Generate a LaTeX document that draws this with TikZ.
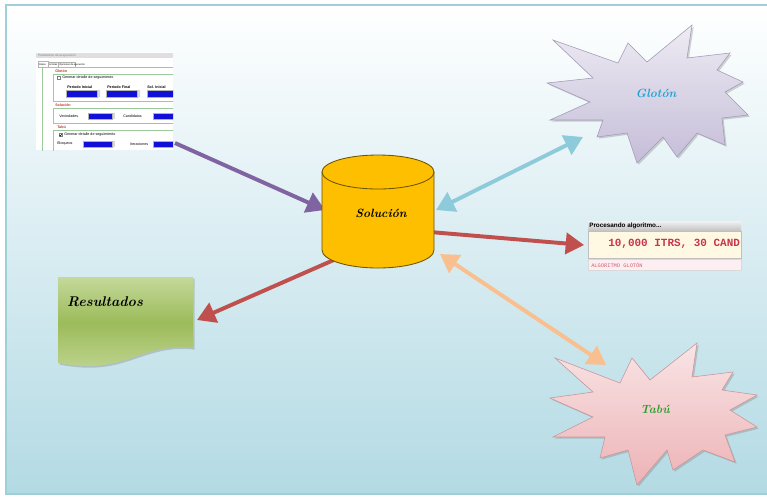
\documentclass[tikz,border=0pt]{standalone}
\usepackage{fontspec}
\newfontfamily\uifont{Liberation Sans}
\newfontfamily\monofont{Liberation Mono}
\usepackage{tikz}
\usetikzlibrary{arrows.meta,shadows}

\definecolor{fondo}{HTML}{B3DAE4}
\definecolor{marco}{HTML}{9FCFD8}
\definecolor{morado}{HTML}{8064A2}
\definecolor{celeste}{HTML}{8ECBDA}
\definecolor{rojo}{HTML}{C0504D}
\definecolor{naranja}{HTML}{F9BF8F}
\definecolor{cilindro}{HTML}{FDBF00}
\definecolor{cilborde}{HTML}{6B5300}
\definecolor{campoazul}{HTML}{1010D8}
\definecolor{etiqueta}{HTML}{C0392B}
\definecolor{crema}{HTML}{FFF9E3}
\definecolor{rosa}{HTML}{FDEEF2}
\definecolor{carmin}{HTML}{C8364A}
\definecolor{verdeclaro}{HTML}{C4D99A}
\definecolor{verde}{HTML}{9CBB5A}
\definecolor{lila}{HTML}{C5BDD8}
\definecolor{lilaborde}{HTML}{A29AB6}
\definecolor{salmon}{HTML}{EDB3B6}
\definecolor{salmonborde}{HTML}{C9959A}
\definecolor{cian}{HTML}{1FA3D4}
\definecolor{verdetexto}{HTML}{2E9E2E}

\tikzset{
  flecha/.style={line width=2.8pt, -{Triangle[length=13pt,width=15pt]}},
  doble/.style={line width=2.8pt, {Triangle[length=13pt,width=15pt]}-{Triangle[length=13pt,width=15pt]}},
  rotulo/.style={font=\bfseries\itshape\fontsize{8.5}{10}\selectfont},
  mini/.style={font=\uifont\fontsize{2.6}{3}\selectfont, inner sep=0pt, anchor=west},
  seccion/.style={mini, text=etiqueta, font=\uifont\bfseries\fontsize{2.6}{3}\selectfont},
  campo/.style={fill=campoazul, draw=gray!60, line width=0.2pt},
  caja/.style={draw=green!30!gray!60, line width=0.3pt},
  sombra/.style={drop shadow={opacity=0.35, shadow xshift=1.2pt, shadow yshift=-1.2pt}},
}

\begin{document}
\begin{tikzpicture}[x=0.025cm,y=-0.025cm]
    % Background and frame
    \useasboundingbox (0,0) rectangle (767,496);
    \shade[top color=white, bottom color=fondo] (6,5) rectangle (769,494);
    \draw[marco, line width=1pt] (6,5) rectangle (769,494);

    % Screenshot of the parameter window
    \begin{scope}
        \clip (36,52) rectangle (173,150);
        \fill[white] (36,52) rectangle (173,150);
        \fill[gray!25] (36,53) rectangle (173,58);
        \node[mini, text=gray, font=\uifont\fontsize{2.2}{3}\selectfont] (ventana) at (38,55.5) {Parámetros de la ejecución};
        \draw[gray!60, line width=0.2pt, fill=white] (38,67) -- (38,61) -- (48,61) -- (48,67);
        \draw[gray!60, line width=0.2pt] (48,67) -- (48,62) -- (58,62) -- (58,67) (58,62) -- (75,62) -- (75,67);
        \node[mini, font=\uifont\fontsize{1.8}{2}\selectfont] (tab1) at (39,64.5) {Datos};
        \node[mini, font=\uifont\fontsize{1.8}{2}\selectfont] (tab2) at (49,64.5) {Límites};
        \node[mini, font=\uifont\fontsize{1.8}{2}\selectfont] (tab3) at (59,64.5) {Opciones de ejecución};
        \draw[caja] (38,67) -- (180,67);
        \draw[caja] (42,67) -- (42,160);

        % Glotón section
        \node[seccion] (sec1) at (55,71) {Glotón};
        \draw[caja] (53,74) rectangle (180,101);
        \draw[gray, line width=0.2pt, fill=white] (57,76.5) rectangle (60,79.5);
        \node[mini] (chk1) at (62,78) {Generar detalle de seguimiento};
        \node[mini, font=\uifont\bfseries\fontsize{2.6}{3}\selectfont] (pi) at (67,87) {Periodo Inicial};
        \node[mini, font=\uifont\bfseries\fontsize{2.6}{3}\selectfont] (pf) at (107,87) {Periodo Final};
        \node[mini, font=\uifont\bfseries\fontsize{2.6}{3}\selectfont] (si) at (147,87) {Sol. Inicial};
        \draw[campo] (66,90) rectangle (97,97);
        \draw[campo] (106,90) rectangle (137,97);
        \draw[campo] (147,90) rectangle (180,97);
        \fill[gray!30] (97.5,90) rectangle (100,97) (137.5,90) rectangle (140,97);

        % Solución section
        \node[seccion] (sec2) at (55,105) {Solución};
        \draw[caja] (53,108) rectangle (180,123);
        \node[mini] (vec) at (59,116) {Vecindades};
        \draw[campo] (88,113) rectangle (112,119);
        \fill[gray!30] (112.5,113) rectangle (115,119);
        \node[mini] (cand) at (123,116) {Candidatos};
        \draw[campo] (153,113) rectangle (180,119);

        % Tabú section
        \node[seccion] (sec3) at (57,127) {Tabú};
        \draw[caja] (53,130) rectangle (180,160);
        \draw[gray, line width=0.2pt, fill=white] (59,133.5) rectangle (62,136.5);
        \draw[black, line width=0.3pt] (59.5,135) -- (60.5,136) -- (61.7,134);
        \node[mini] (chk2) at (64,135) {Generar detalle de seguimiento};
        \node[mini] (bloq) at (57,144) {Bloqueos};
        \draw[campo] (83,141) rectangle (112,147);
        \fill[gray!30] (112.5,141) rectangle (115,147);
        \node[mini] (iter) at (130,144) {Iteraciones};
        \draw[campo] (153,141) rectangle (180,147);
    \end{scope}
    \coordinate (panel-se) at (175,143);

    % Glotón star
    \path[draw=lilaborde, top color=white!70!lila, bottom color=lila, sombra]
        (553,40) -- (618,63) -- (628,43) -- (647,62) -- (692,25) -- (687,58) -- (730,53) -- (717,70)
        -- (743,82) -- (725,92) -- (748,115) -- (722,118) -- (725,145) -- (697,133) -- (677,157)
        -- (663,137) -- (637,163) -- (627,133) -- (597,137) -- (603,120) -- (550,120) -- (590,102)
        -- (547,83) -- (593,78) -- cycle;
    \node[rotulo, text=cian] (gloton) at (656,93) {Glotón};
    \coordinate (gloton-sw) at (583,137);

    % Tabú star
    \path[draw=salmonborde, top color=white!65!salmon, bottom color=salmon, sombra]
        (555,358) -- (620,383) -- (632,358) -- (650,380) -- (697,343) -- (692,377) -- (733,372) -- (722,390)
        -- (757,395) -- (730,410) -- (757,427) -- (725,435) -- (735,462) -- (703,450) -- (673,470)
        -- (667,450) -- (637,485) -- (628,450) -- (600,458) -- (605,437) -- (553,437) -- (593,417)
        -- (550,398) -- (593,392) -- cycle;
    \node[rotulo, text=verdetexto] (tabu) at (655,409) {Tabú};
    \coordinate (tabu-nw) at (606,365);

    % Processing window
    \shade[top color=gray!10, bottom color=gray!45] (588,221) rectangle (741,230);
    \node[anchor=west, inner sep=0pt, font=\uifont\bfseries\fontsize{4.5}{5}\selectfont] (proc-titulo) at (589,226) {Procesando algoritmo...};
    \filldraw[fill=crema, draw=gray!50, line width=0.3pt] (588,231) rectangle (741,258);
    \node[anchor=west, inner sep=0pt, text=carmin, font=\monofont\bfseries\fontsize{7.8}{9}\selectfont] (proc-texto) at (608,244) {10,000 ITRS, 30 CAND};
    \filldraw[fill=rosa, draw=gray!30, line width=0.3pt] (588,259) rectangle (741,270);
    \node[anchor=west, inner sep=0pt, text=carmin!80, font=\monofont\fontsize{3.8}{4}\selectfont] (proc-algo) at (591,265) {ALGORITMO GLOTÓN};
    \coordinate (proceso-w) at (584,245);

    % Resultados document
    \path[top color=verdeclaro, bottom color=verdeclaro!80!verde, middle color=verde, sombra]
        (58,277) -- (193,277) -- (193,348) .. controls (165,345) and (150,352) .. (125,360)
        .. controls (100,368) and (80,367) .. (58,363) -- cycle;
    \node[rotulo, font=\bfseries\itshape\fontsize{10}{12}\selectfont] (resultados) at (105,302) {Resultados};
    \coordinate (resultados-e) at (197,320);

    % Connectors
    \coordinate (sol-w) at (325,210);
    \coordinate (sol-e) at (436,210);
    \coordinate (sol-e2) at (430,232);
    \coordinate (sol-sw) at (336,259);
    \coordinate (sol-se) at (440,254);
    \draw[flecha, morado] (panel-se) -- (sol-w);
    \draw[flecha, rojo] (sol-e2) -- (proceso-w);
    \draw[flecha, rojo] (sol-sw) -- (resultados-e);
    \draw[doble, celeste] (sol-e) -- (gloton-sw);
    \draw[doble, naranja] (sol-se) -- (tabu-nw);

    % Solución cylinder
    \filldraw[fill=cilindro, draw=cilborde, line width=0.6pt]
        (322,172) -- (322,250) arc[start angle=180, end angle=0, x radius=56, y radius=18] -- (434,172) -- cycle;
    \filldraw[fill=cilindro, draw=cilborde, line width=0.6pt] (378,172) ellipse [x radius=56, y radius=17];
    \node[rotulo] (solucion) at (381,213) {Solución};
\end{tikzpicture}
\end{document}
